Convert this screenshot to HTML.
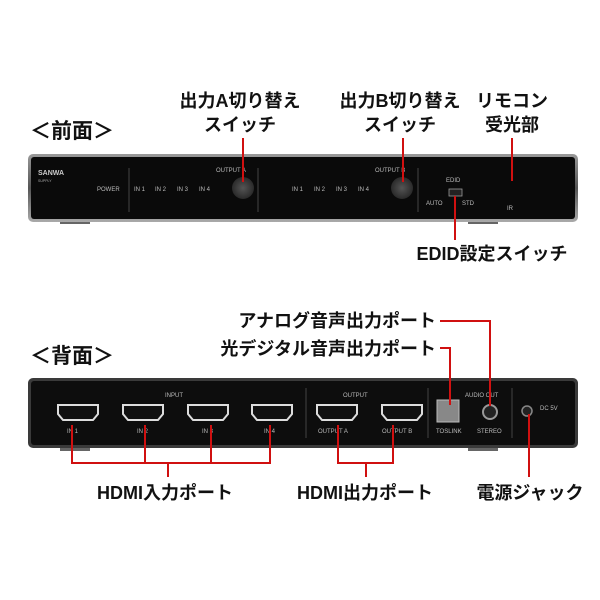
<!DOCTYPE html>
<html><head><meta charset="utf-8"><style>
html,body{margin:0;padding:0;background:#fff;width:600px;height:600px;overflow:hidden}
svg{display:block}
.j{font-family:"Liberation Sans","Noto Sans CJK JP",sans-serif;font-weight:bold;fill:#111}
.s{font-family:"Liberation Sans",sans-serif;fill:#bbb;font-size:6px}
</style></head><body>
<svg width="600" height="600" viewBox="0 0 600 600">
<defs>
<linearGradient id="bz" x1="0" y1="0" x2="0" y2="1"><stop offset="0" stop-color="#9a9a9a"/><stop offset="0.5" stop-color="#555"/><stop offset="1" stop-color="#aaa"/></linearGradient>
<radialGradient id="kn"><stop offset="0" stop-color="#555"/><stop offset="1" stop-color="#2a2a2a"/></radialGradient>
</defs>
<text class="j" x="30" y="138" font-size="21">＜前面＞</text>
<text class="j" x="30" y="363" font-size="21">＜背面＞</text>
<g class="j" font-size="18" text-anchor="middle">
<text x="240" y="107">出力A切り替え</text><text x="240" y="131">スイッチ</text>
<text x="400" y="107">出力B切り替え</text><text x="400" y="131">スイッチ</text>
<text x="512" y="107">リモコン</text><text x="512" y="131">受光部</text>
<text x="492" y="260">EDID設定スイッチ</text>
<text x="165" y="499">HDMI入力ポート</text>
<text x="365" y="499">HDMI出力ポート</text>
<text x="530" y="499">電源ジャック</text>
</g>
<g class="j" font-size="18" text-anchor="end">
<text x="436" y="327">アナログ音声出力ポート</text>
<text x="436" y="355">光デジタル音声出力ポート</text>
</g>
<rect x="60" y="218" width="30" height="6" fill="#666"/><rect x="468" y="218" width="30" height="6" fill="#666"/>
<rect x="28" y="154" width="550" height="68" rx="5" fill="url(#bz)"/>
<rect x="31" y="157" width="544" height="62" rx="3" fill="#0a0a0a"/>
<text x="38" y="175" font-family="Liberation Sans" font-size="7" fill="#ccc" font-weight="bold">SANWA</text>
<text x="38" y="182" font-family="Liberation Sans" font-size="3.5" fill="#aaa">SUPPLY</text>
<g class="s">
<text x="97" y="191">POWER</text>
<text x="134" y="191">IN 1</text><text x="155" y="191">IN 2</text><text x="177" y="191">IN 3</text><text x="199" y="191">IN 4</text>
<text x="216" y="172">OUTPUT A</text>
<text x="292" y="191">IN 1</text><text x="314" y="191">IN 2</text><text x="336" y="191">IN 3</text><text x="358" y="191">IN 4</text>
<text x="375" y="172">OUTPUT B</text>
<text x="446" y="182">EDID</text>
<text x="426" y="205">AUTO</text><text x="462" y="205">STD</text>
<text x="507" y="210">IR</text>
</g>
<line x1="129" y1="168" x2="129" y2="212" stroke="#444"/>
<line x1="258" y1="168" x2="258" y2="212" stroke="#444"/>
<line x1="418" y1="168" x2="418" y2="212" stroke="#444"/>
<circle cx="243" cy="188" r="11" fill="url(#kn)"/>
<circle cx="402" cy="188" r="11" fill="url(#kn)"/>
<rect x="449" y="189" width="13" height="7" fill="#222" stroke="#999" stroke-width="0.8"/>
<rect x="60" y="446" width="30" height="5" fill="#666"/><rect x="468" y="446" width="30" height="5" fill="#666"/>
<rect x="28" y="378" width="550" height="70" rx="5" fill="#3a3a3a"/>
<rect x="31" y="381" width="544" height="64" rx="3" fill="#0d0d0d"/>
<g class="s">
<text x="165" y="397">INPUT</text><text x="343" y="397">OUTPUT</text><text x="465" y="397">AUDIO OUT</text>
<text x="67" y="433">IN 1</text><text x="137" y="433">IN 2</text><text x="202" y="433">IN 3</text><text x="264" y="433">IN 4</text>
<text x="318" y="433">OUTPUT A</text><text x="382" y="433">OUTPUT B</text>
<text x="436" y="433">TOSLINK</text><text x="477" y="433">STEREO</text>
<text x="540" y="410">DC 5V</text>
</g>
<line x1="306" y1="388" x2="306" y2="438" stroke="#444"/>
<line x1="428" y1="388" x2="428" y2="438" stroke="#444"/>
<line x1="512" y1="388" x2="512" y2="438" stroke="#444"/>
<g fill="#111" stroke="#ddd" stroke-width="2">
<path d="M58 405h40v9l-5 6h-30l-5-6z"/>
<path d="M123 405h40v9l-5 6h-30l-5-6z"/>
<path d="M188 405h40v9l-5 6h-30l-5-6z"/>
<path d="M252 405h40v9l-5 6h-30l-5-6z"/>
<path d="M317 405h40v9l-5 6h-30l-5-6z"/>
<path d="M382 405h40v9l-5 6h-30l-5-6z"/>
</g>
<rect x="437" y="400" width="22" height="22" fill="#888" stroke="#bbb"/>
<circle cx="490" cy="412" r="7" fill="#222" stroke="#999" stroke-width="2"/>
<circle cx="527" cy="411" r="5" fill="#222" stroke="#888" stroke-width="1.5"/>
<g stroke="#d01010" stroke-width="2" fill="none">
<line x1="243" y1="138" x2="243" y2="182"/>
<line x1="403" y1="138" x2="403" y2="182"/>
<line x1="512" y1="138" x2="512" y2="181"/>
<line x1="455" y1="196" x2="455" y2="240"/>
<polyline points="440,321 490,321 490,406"/>
<polyline points="440,348 450,348 450,405"/>
<polyline points="72,425 72,463 270,463 270,425"/>
<line x1="145" y1="425" x2="145" y2="463"/><line x1="211" y1="425" x2="211" y2="463"/>
<line x1="168" y1="463" x2="168" y2="477"/>
<polyline points="338,425 338,463 393,463 393,425"/>
<line x1="366" y1="463" x2="366" y2="477"/>
<line x1="529" y1="414" x2="529" y2="477"/>
</g>
</svg>
</body></html>
